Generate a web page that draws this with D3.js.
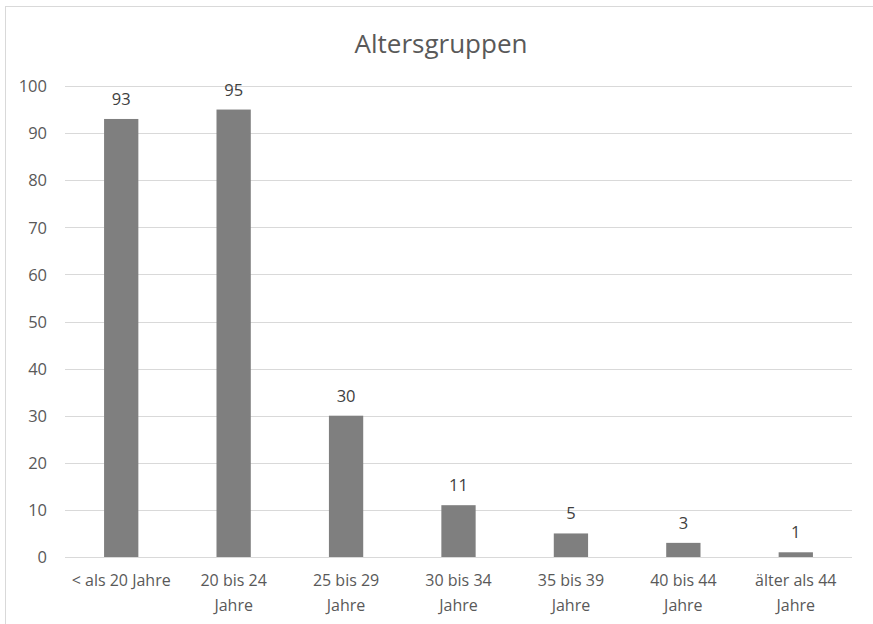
<!DOCTYPE html>
<html>
<head>
<meta charset="utf-8">
<script src="https://cdn.jsdelivr.net/npm/d3@7"></script>
<style>
  html, body { margin: 0; padding: 0; background: #fff; }
  svg text { font-family: "Open Sans", "Noto Sans", sans-serif; }
</style>
</head>
<body>
<svg id="chart" width="873" height="624"></svg>
<script>
// Age groups and counts
const categories = [
  ["< als 20 Jahre"],
  ["20 bis 24", "Jahre"],
  ["25 bis 29", "Jahre"],
  ["30 bis 34", "Jahre"],
  ["35 bis 39", "Jahre"],
  ["40 bis 44", "Jahre"],
  ["älter als 44", "Jahre"]
];
const values = [93, 95, 30, 11, 5, 3, 1];
const yTicks = [0, 10, 20, 30, 40, 50, 60, 70, 80, 90, 100];
const title = "Altersgruppen";

const svg = d3.select("#chart");
const W = 873, H = 624;
const plot = { left: 65, right: 852, top: 86, bottom: 557 };

// chart frame
svg.append("rect")
  .attr("x", 5.5).attr("y", 6.5)
  .attr("width", W + 10).attr("height", H + 10)
  .attr("fill", "#fff").attr("stroke", "#d9d9d9").attr("stroke-width", 1);

const x = d3.scaleBand()
  .domain(categories.map((d, i) => i))
  .range([plot.left, plot.right])
  .paddingInner(0.695)
  .paddingOuter(0.3475);

const y = d3.scaleLinear().domain([0, 100]).range([plot.bottom, plot.top]);

// gridlines
svg.append("g")
  .selectAll("line")
  .data(yTicks)
  .join("line")
  .attr("x1", plot.left).attr("x2", plot.right)
  .attr("y1", d => Math.round(y(d)) + 0.5)
  .attr("y2", d => Math.round(y(d)) + 0.5)
  .attr("stroke", "#d9d9d9").attr("stroke-width", 1);

// y axis labels
const yAxis = d3.axisLeft(y).tickValues(yTicks).tickSize(0).tickPadding(0);
const yg = svg.append("g").attr("transform", `translate(${plot.left - 18},0)`).call(yAxis);
yg.select(".domain").remove();
yg.selectAll("text")
  .attr("fill", "#595959")
  .style("font-size", "16.5px")
  .attr("dy", "0.35em");

// bars
svg.append("g")
  .selectAll("rect")
  .data(values)
  .join("rect")
  .attr("x", (d, i) => x(i))
  .attr("width", x.bandwidth())
  .attr("y", d => y(d))
  .attr("height", d => y(0) - y(d))
  .attr("fill", "#7f7f7f");

// value labels
svg.append("g")
  .selectAll("text")
  .data(values)
  .join("text")
  .attr("x", (d, i) => x(i) + x.bandwidth() / 2)
  .attr("y", d => y(d) - 14)
  .attr("text-anchor", "middle")
  .attr("fill", "#404040")
  .style("font-size", "16.5px")
  .text(d => d);

// category labels
const xg = svg.append("g");
categories.forEach((lines, i) => {
  const t = xg.append("text")
    .attr("x", x(i) + x.bandwidth() / 2)
    .attr("y", 586)
    .attr("text-anchor", "middle")
    .attr("fill", "#595959")
    .style("font-size", "16px");
  lines.forEach((ln, j) => {
    t.append("tspan")
      .attr("x", x(i) + x.bandwidth() / 2)
      .attr("dy", j === 0 ? 0 : 25)
      .text(ln);
  });
});

// title
svg.append("text")
  .attr("x", 441).attr("y", 53)
  .attr("text-anchor", "middle")
  .attr("fill", "#595959")
  .style("font-size", "26px")
  .text(title);
</script>
</body>
</html>
